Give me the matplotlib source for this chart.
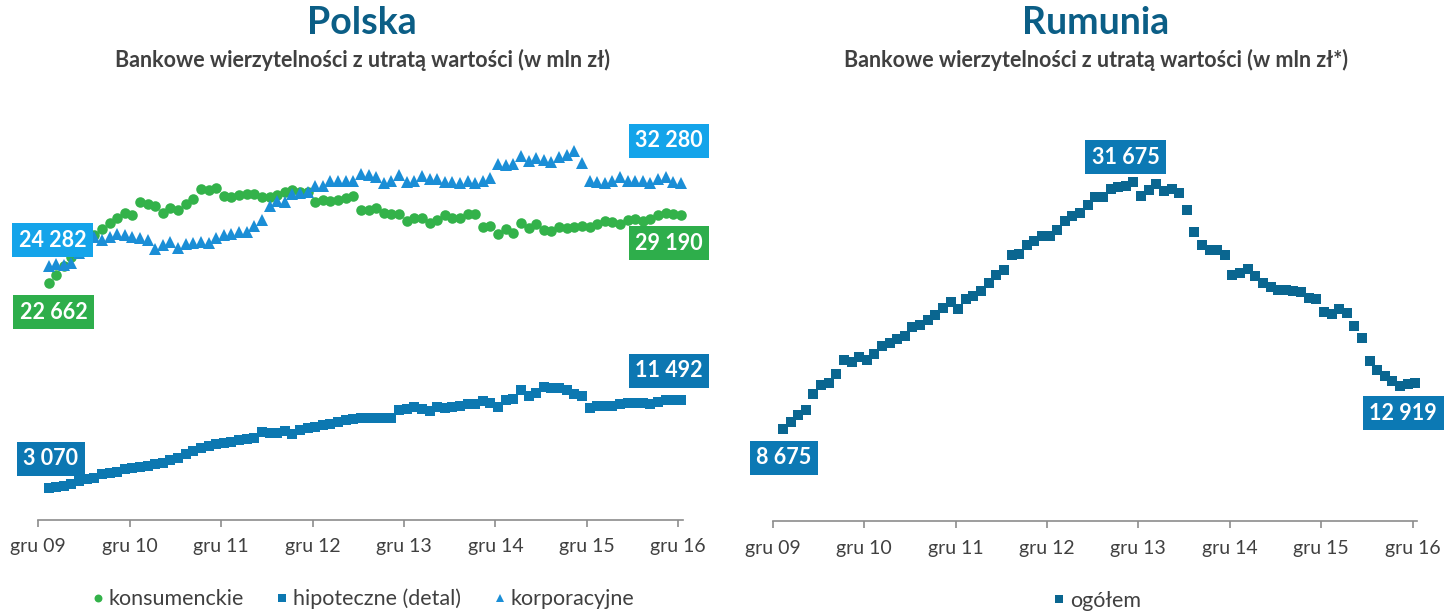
import numpy as np
import matplotlib.pyplot as plt

plt.rcParams['font.family'] = ['Lato', 'DejaVu Sans']

# monthly data, Jan 2010 .. Dec 2016
months = np.arange(1, 85)
tick_labels = ['gru 09', 'gru 10', 'gru 11', 'gru 12', 'gru 13', 'gru 14', 'gru 15', 'gru 16']

konsumenckie = [
    22662, 23478, 24308, 25169, 25900, 26700, 27300, 27881, 28455, 28933,
    29348, 29157, 30433, 30273, 30018, 29412, 29827, 29635, 30209, 30688,
    31645, 31581, 31804, 31007, 30911, 31103, 31230, 31230, 30911, 30911,
    31103, 31422, 31549, 31422, 31358, 30465, 30592, 30528, 30592, 30847,
    31007, 29635, 29635, 29827, 29412, 29316, 29252, 28614, 28870, 28870,
    28455, 28678, 29189, 28933, 28870, 29252, 29252, 28040, 28136, 27338,
    27817, 27498, 28455, 27913, 28359, 27721, 27657, 28040, 27913, 28040,
    28136, 28040, 28359, 28614, 28551, 28359, 28678, 28774, 28614, 28774,
    29189, 29412, 29252, 29190]

hipoteczne = [
    3070, 3158, 3254, 3413, 3732, 3892, 4051, 4370, 4466, 4626,
    4849, 4945, 5072, 5200, 5327, 5487, 5710, 5965, 6348, 6603,
    6859, 7082, 7305, 7401, 7497, 7624, 7720, 7879, 8454, 8358,
    8358, 8517, 8262, 8581, 8773, 8900, 9060, 9219, 9379, 9538,
    9634, 9730, 9793, 9793, 9793, 9793, 10495, 10591, 10814, 10655,
    10431, 10814, 10750, 10814, 10910, 11069, 11133, 11388, 11229, 10814,
    11452, 11548, 12409, 11867, 12186, 12728, 12664, 12664, 12409, 12026,
    11867, 10750, 10910, 10910, 10910, 11069, 11229, 11229, 11229, 11133,
    11325, 11452, 11452, 11492]

korporacyjne = [
    24282, 24467, 24372, 24627, 25600, 26500, 27100, 26796, 27083, 27338,
    27275, 27115, 26956, 26764, 25903, 26318, 26637, 26062, 26445, 26541,
    26637, 26509, 26956, 27275, 27402, 27562, 27530, 28104, 28710, 30018,
    30528, 30465, 31230, 31326, 31390, 31964, 31964, 32442, 32442, 32442,
    32506, 33144, 33017, 32825, 32283, 32506, 32985, 32347, 32506, 32921,
    32602, 32602, 32379, 32379, 32283, 32442, 32283, 32442, 32698, 34101,
    34037, 34101, 34835, 34420, 34675, 34452, 34261, 34771, 34994, 35377,
    34197, 32506, 32347, 32219, 32442, 32825, 32442, 32506, 32506, 32283,
    32602, 32825, 32347, 32280]

ogolem = [
    8675, 9274, 9896, 10456, 11857, 12790, 12946, 13817, 15124, 14875,
    15373, 15124, 15684, 16431, 16680, 17054, 17303, 18174, 18392, 18796,
    19263, 19948, 20477, 19855, 20788, 21099, 21504, 22282, 23060, 23464,
    24927, 25020, 25861, 26172, 26638, 26701, 27261, 28039, 28568, 28817,
    29595, 30280, 30280, 31058, 31214, 31307, 31675, 30373, 30933, 31556,
    30902, 31058, 30684, 29066, 27012, 25861, 25331, 25331, 24927, 23060,
    23216, 23589, 22904, 22282, 21908, 21660, 21597, 21566, 21442, 20882,
    20819, 19543, 19388, 19855, 19481, 18299, 17147, 14969, 14128, 13568,
    13102, 12697, 12884, 12919]

GREEN = '#33B24A'
GREEN_BOX = '#2EAE4B'
MORT = '#0C78B1'
MORT_BOX = '#0C77B2'
CORP = '#1B8ED6'
CORP_BOX = '#14A4EA'
ROM = '#0A6690'
ROM_BOX = '#0C79B4'
TITLE = '#0B5E86'
TEXT = '#404040'

fig = plt.figure(figsize=(14.54, 6.14), dpi=100)
ax1 = fig.add_axes([0.02634, 0.1531, 0.4433, 0.6889])
ax2 = fig.add_axes([0.5314, 0.1507, 0.4433, 0.6889])

ax1.plot(months, konsumenckie, 'o', color=GREEN, ms=7.6, mew=0, clip_on=False, label='konsumenckie', zorder=3)
ax1.plot(months, hipoteczne, 's', color=MORT, ms=7, mew=0, clip_on=False, label='hipoteczne (detal)', zorder=3)
ax1.plot(months, korporacyjne, '^', color=CORP, ms=8, mew=0, clip_on=False, label='korporacyjne', zorder=4)
ax1.set_ylim(0, 40500)

ax2.plot(months, ogolem, 's', color=ROM, ms=6.8, mew=0, clip_on=False, label='ogółem', zorder=3)
ax2.set_ylim(0, 39500)

for ax in (ax1, ax2):
    ax.set_xlim(-0.35, 84.25)
    ax.set_xticks(np.arange(0, 85, 12) - 0.35)
    ax.set_xticklabels(tick_labels, fontsize=14, color=TEXT)
    ax.tick_params(axis='x', direction='out', length=5, width=1.2, color='#8C8C8C', pad=8)
    ax.set_yticks([])
    for side in ('left', 'right', 'top'):
        ax.spines[side].set_visible(False)
    ax.spines['bottom'].set_color('#8C8C8C')
    ax.spines['bottom'].set_linewidth(1.2)
    ax.patch.set_alpha(0)


def box_label(ax, x, y, text, color, dx, dy):
    ax.annotate(text, xy=(x, y), xytext=(dx, dy), textcoords='offset pixels',
                ha='center', va='center', fontsize=15.5, fontweight='bold', color='white',
                bbox=dict(boxstyle='square,pad=0.3', fc=color, ec='none'), zorder=10,
                annotation_clip=False)


def fmt(v):
    return f'{v:,}'.replace(',', ' ')


box_label(ax1, months[0], korporacyjne[0], fmt(korporacyjne[0]), CORP_BOX, 4, 26)
box_label(ax1, months[0], konsumenckie[0], fmt(konsumenckie[0]), GREEN_BOX, 5, -29)
box_label(ax1, months[0], hipoteczne[0], fmt(hipoteczne[0]), MORT_BOX, 2, 29)
box_label(ax1, months[-1], korporacyjne[-1], fmt(korporacyjne[-1]), CORP_BOX, -12, 42)
box_label(ax1, months[-1], konsumenckie[-1], fmt(konsumenckie[-1]), GREEN_BOX, -12, -28)
box_label(ax1, months[-1], hipoteczne[-1], fmt(hipoteczne[-1]), MORT_BOX, -12, 29)

peak = int(np.argmax(ogolem))
box_label(ax2, months[0], ogolem[0], fmt(ogolem[0]), ROM_BOX, 1, -29)
box_label(ax2, months[peak], ogolem[peak], fmt(ogolem[peak]), ROM_BOX, -8, 25)
box_label(ax2, months[-1], ogolem[-1], fmt(ogolem[-1]), ROM_BOX, -12, -30)

fig.text(0.249, 0.962, 'Polska', ha='center', va='center', fontsize=27, fontweight='bold', color=TITLE)
fig.text(0.249, 0.903, 'Bankowe wierzytelności z utratą wartości (w mln zł)', ha='center', va='center',
         fontsize=15.5, fontweight='bold', color=TEXT)
fig.text(0.7535, 0.962, 'Rumunia', ha='center', va='center', fontsize=27, fontweight='bold', color=TITLE)
fig.text(0.7535, 0.903, 'Bankowe wierzytelności z utratą wartości (w mln zł*)', ha='center', va='center',
         fontsize=15.5, fontweight='bold', color=TEXT)

ax1.legend(loc='center', bbox_to_anchor=(0.5, -0.187), ncol=3, frameon=False, fontsize=15.5,
           markerscale=0.75, handletextpad=0.0, handlelength=1.0, columnspacing=1.3, labelcolor=TEXT)
ax2.legend(loc='center', bbox_to_anchor=(0.5, -0.187), ncol=1, frameon=False, fontsize=15.5,
           markerscale=0.75, handletextpad=0.0, handlelength=1.0, labelcolor=TEXT)

fig.savefig('out.png', dpi=100)
